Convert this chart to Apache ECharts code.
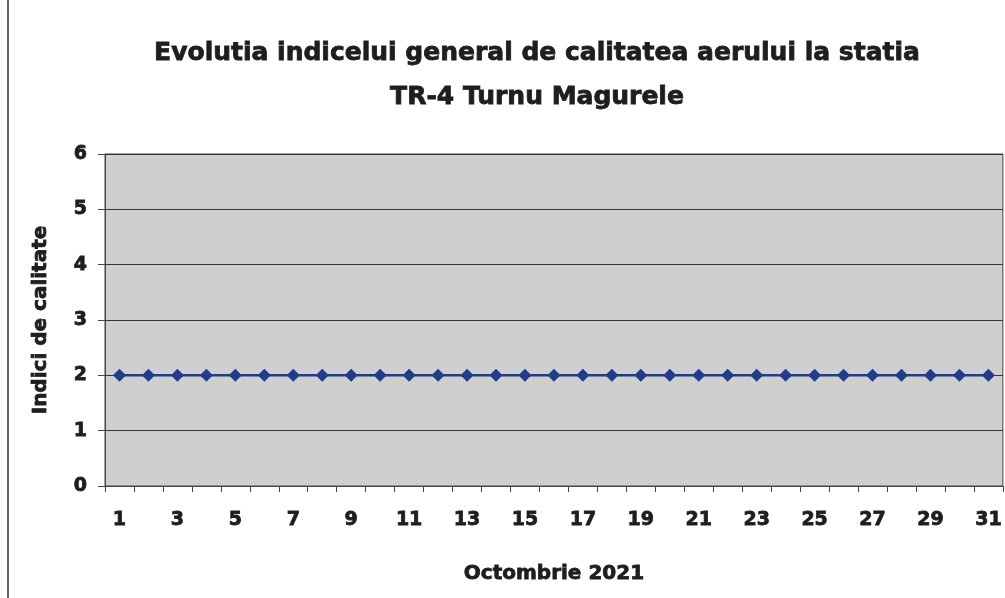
<!DOCTYPE html>
<html>
<head>
<meta charset="utf-8">
<script src="https://cdn.jsdelivr.net/npm/echarts@6/dist/echarts.min.js"></script>
<style>
  html, body { margin: 0; padding: 0; background: #fff; }
  #chart { width: 1005px; height: 598px; }
</style>
</head>
<body>
<div id="chart"></div>
<script>
const days = Array.from({ length: 31 }, (_, i) => String(i + 1));
const indexValues = [2, 2, 2, 2, 2, 2, 2, 2, 2, 2, 2, 2, 2, 2, 2, 2, 2, 2, 2, 2, 2, 2, 2, 2, 2, 2, 2, 2, 2, 2, 2];
const yTicks = [0, 1, 2, 3, 4, 5, 6];

const font = "DejaVu Sans";
const ink = "#1e1e1e";
// a thin stroke of the same colour makes the bold text look heavier, like the original
const heavy = { fontFamily: font, fontWeight: "bold", color: ink, textBorderColor: ink, textBorderWidth: 0.8 };

const chart = echarts.init(document.getElementById("chart"));

chart.setOption({
  animation: false,
  title: {
    text: "Evolutia indicelui general de calitatea aerului la statia\nTR-4 Turnu Magurele",
    left: 532,
    top: 26,
    textAlign: "center",
    textStyle: Object.assign({}, heavy, { fontSize: 25, lineHeight: 44 })
  },
  graphic: [
    {
      type: "line",
      shape: { x1: 8, y1: 0, x2: 8, y2: 598 },
      style: { stroke: "#333", lineWidth: 1.5 }
    }
  ],
  grid: {
    left: 105,
    top: 154,
    right: 2,
    bottom: 112,
    show: true,
    backgroundColor: "#cfcfcf",
    borderColor: "#444",
    borderWidth: 1
  },
  xAxis: {
    type: "category",
    data: days,
    boundaryGap: true,
    name: "Octombrie 2021",
    nameLocation: "middle",
    nameGap: 78,
    nameTextStyle: Object.assign({}, heavy, { fontSize: 20 }),
    axisLine: { lineStyle: { color: "#444", width: 1 } },
    axisTick: { show: true, length: 6, inside: false, interval: 0, lineStyle: { color: "#444" } },
    axisLabel: Object.assign({ interval: 1, margin: 25 }, heavy, { fontSize: 19 }),
    splitLine: { show: false }
  },
  yAxis: {
    type: "value",
    min: yTicks[0],
    max: yTicks[yTicks.length - 1],
    interval: 1,
    name: "Indici de calitate",
    nameLocation: "middle",
    nameGap: 54,
    nameTextStyle: Object.assign({}, heavy, { fontSize: 20 }),
    axisLine: { show: true, lineStyle: { color: "#444", width: 1 } },
    axisTick: { show: true, length: 7, lineStyle: { color: "#444" } },
    axisLabel: Object.assign({ margin: 18 }, heavy, { fontSize: 19 }),
    splitLine: { show: true, lineStyle: { color: "#333", width: 1 } }
  },
  series: [
    {
      type: "line",
      data: indexValues,
      symbol: "diamond",
      symbolSize: 13,
      lineStyle: { color: "#1f3d8c", width: 2.5 },
      itemStyle: { color: "#1f3d8c" }
    }
  ]
});
</script>
</body>
</html>
